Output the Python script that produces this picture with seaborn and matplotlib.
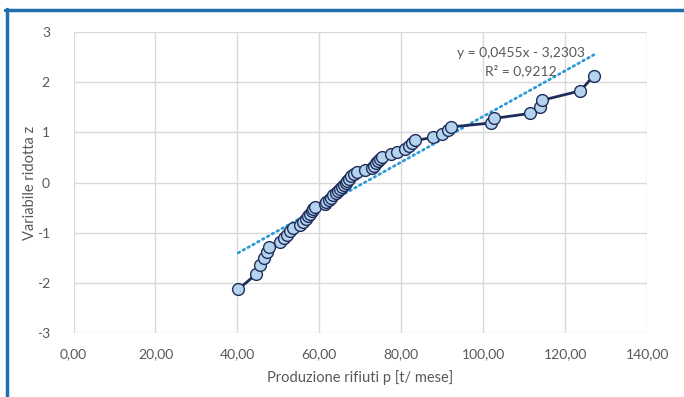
import numpy as np
import pandas as pd
import matplotlib
matplotlib.use("Agg")
import matplotlib.pyplot as plt
from matplotlib.lines import Line2D
from matplotlib.ticker import FuncFormatter
import seaborn as sns

# produzione rifiuti p [t/mese], ordinata, e variabile ridotta z
p = [40.2, 44.5, 45.5, 46.6, 47.3, 47.8, 50.5, 51.4, 52.2, 52.8,
     53.5, 55.2, 55.9, 56.7, 57.3, 57.7, 58.1, 58.5, 58.9, 61.3,
     61.7, 62.3, 62.8, 63.3, 64.0, 64.5, 65.0, 65.6, 66.0, 66.4,
     66.8, 67.2, 67.8, 68.4, 69.2, 71.1, 72.8, 73.3, 73.8, 74.3,
     74.8, 75.4, 77.4, 78.9, 80.8, 81.8, 82.5, 83.4, 87.7, 89.9,
     91.4, 92.2, 102.0, 102.6, 111.5, 113.8, 114.3, 123.7, 127.0]
z = [-2.13, -1.83, -1.64, -1.50, -1.38, -1.28, -1.19, -1.11, -1.04, -0.97,
     -0.90, -0.84, -0.78, -0.73, -0.67, -0.62, -0.57, -0.52, -0.48, -0.43,
     -0.39, -0.34, -0.30, -0.25, -0.21, -0.17, -0.13, -0.08, -0.04, 0.00,
     0.04, 0.08, 0.13, 0.17, 0.21, 0.25, 0.30, 0.34, 0.39, 0.43,
     0.48, 0.52, 0.57, 0.62, 0.67, 0.73, 0.78, 0.84, 0.90, 0.97,
     1.04, 1.11, 1.19, 1.28, 1.38, 1.50, 1.64, 1.83, 2.13]

# linea di tendenza (Excel)
slope = 0.0455
intercept = -3.2303
r2 = 0.9212

df = pd.DataFrame({'p': p, 'z': z})
trend = pd.DataFrame({'p': [min(p), max(p)]})
trend['z'] = slope * trend['p'] + intercept

sns.set_theme(style="whitegrid")
plt.rcParams['font.family'] = ['Lato', 'DejaVu Sans']

fig = plt.figure(figsize=(6.84, 3.97), dpi=100)
ax = fig.add_axes([0.1075, 0.161, 0.8385, 0.758])

sns.lineplot(data=trend, x='p', y='z', ax=ax, color='#2a9ad8', lw=2.0,
             linestyle=(0, (0.6, 1.4)), dash_capstyle='round', zorder=3)
sns.lineplot(data=df, x='p', y='z', ax=ax, sort=False, estimator=None,
             color='#1f2d5a', lw=2.0, marker='o', markersize=8.5,
             markerfacecolor='#b4d3ee', markeredgecolor='#1f2d5a',
             markeredgewidth=1.0, zorder=4)

ax.set_xlim(0, 140)
ax.set_ylim(-3, 3)
ax.set_xticks(range(0, 141, 20))
ax.set_yticks(range(-3, 4))
ax.xaxis.set_major_formatter(FuncFormatter(lambda v, _: f"{v:.2f}".replace('.', ',')))
ax.yaxis.set_major_formatter(FuncFormatter(lambda v, _: f"{int(v)}"))
ax.grid(True, color='#d9d9d9', lw=1.0)
for s in ax.spines.values():
    s.set_visible(False)
ax.tick_params(colors='#595959', labelsize=10)
ax.tick_params(axis='x', pad=5)
ax.tick_params(axis='y', pad=11)
ax.set_xlabel('Produzione rifiuti p [t/ mese]', color='#595959', fontsize=10.5, labelpad=7)
ax.set_ylabel('Variabile ridotta z', color='#595959', fontsize=10.5, labelpad=0)

ax.text(109.1, 2.58, 'y = 0,0455x - 3,2303', ha='center', va='center',
        color='#595959', fontsize=10)
ax.text(109.1, 2.23, 'R² = ' + f"{r2:.4f}".replace('.', ','), ha='center', va='center',
        color='#595959', fontsize=10)

# cornice blu del grafico
fig.add_artist(Line2D([6.5 / 684, 6.5 / 684], [0, 1 - 9 / 397], transform=fig.transFigure,
                      color='#1f6fae', lw=2.5))
fig.add_artist(Line2D([5 / 684, 1], [1 - 10 / 397, 1 - 10 / 397], transform=fig.transFigure,
                      color='#1f6fae', lw=2.5))

fig.savefig('out.png', dpi=100)
